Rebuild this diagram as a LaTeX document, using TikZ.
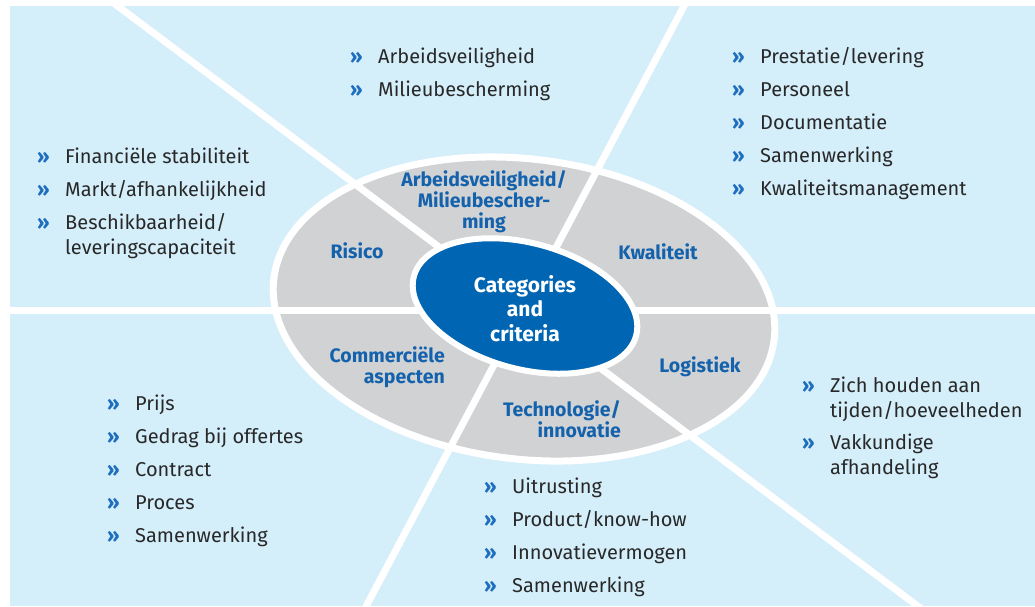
\documentclass[tikz,border=0pt]{standalone}
\usepackage{fontspec}
\setmainfont{Fira Sans}
\usepackage{tikz}
\usetikzlibrary{positioning}

\definecolor{panelblue}{RGB}{212,238,250}
\definecolor{ringgray}{RGB}{209,210,212}
\definecolor{coreblue}{RGB}{0,102,179}
\definecolor{labelblue}{RGB}{20,98,172}
\definecolor{bulletblue}{RGB}{30,110,190}
\definecolor{textdark}{RGB}{40,40,40}

\newcommand{\bul}{\makebox[28pt][l]{\textcolor{bulletblue}{\bfseries »}}}
\newcommand{\ind}{\hspace*{28pt}}

% multi-line nodes sit on the baseline of their last line
\tikzset{
  spoke/.style={white, line width=7pt},
  item/.style={anchor=base west, align=left, inner sep=0pt, text=textdark,
    font=\fontsize{20}{25}\selectfont},
  ringlabel/.style={anchor=base, inner sep=0pt, text=labelblue,
    font=\bfseries\fontsize{19.5}{21}\selectfont},
}

\begin{document}
\begin{tikzpicture}[x=1pt, y=1pt]

 \useasboundingbox (0,0) rectangle (1035,-606);

 % background panel
 \fill[panelblue] (10,-6) rectangle (1035,-606);

 \coordinate (hub) at (523,-310);

 % outer ring
 \draw[white, line width=7pt, fill=ringgray, rotate around={-7:(524,-309)}]
   (524,-309) ellipse (252pt and 150pt);

 % the three dividing lines
 \draw[spoke] (hub) ++(0:600) -- ++(180:1200);
 \draw[spoke] (hub) ++(143.13:600) -- ++(-36.87:1200);
 \draw[spoke] (hub) ++(62.1:400) -- ++(242.1:800);

 % inner ellipse
 \draw[white, line width=6pt, fill=coreblue, rotate around={-15:(525,-306)}]
   (525,-306) ellipse (115pt and 63pt);
 \node[align=center, text=white, inner sep=0pt, anchor=base,
   font=\bfseries\fontsize{21}{24.5}\selectfont] (core) at (525,-341)
   {Categories\\and\\criteria};

 % category labels on the ring
 \node[ringlabel] (risico) at (357,-258) {Risico};
 \node[ringlabel, align=center] (arbo) at (484,-228)
   {Arbeidsveiligheid/\\Milieubescher-\\ming};
 \node[ringlabel] (kwaliteit) at (658,-259) {Kwaliteit};
 \node[ringlabel] (logistiek) at (700,-372) {Logistiek};
 \node[ringlabel, anchor=base east, align=right] (commercieel) at (445,-383)
   {Commerciële\\aspecten};
 \node[ringlabel, anchor=base east, align=right] (techno) at (621,-437)
   {Technologie/\\innovatie};

 % criteria per category
 \foreach \t [count=\i from 0] in {Arbeidsveiligheid, Milieubescherming}
   \node[item] (arbo\i) at (350,{-63-33*\i}) {\bul\t};

 \foreach \t [count=\i from 0] in {Prestatie/levering, Personeel, Documentatie,
     Samenwerking, Kwaliteitsmanagement}
   \node[item] (kwal\i) at (732,{-63-33*\i}) {\bul\t};

 \node[item] (risico0) at (37,-163) {\bul Financiële stabiliteit};
 \node[item] (risico1) at (37,-196) {\bul Markt/afhankelijkheid};
 \node[item] (risico2) at (37,-254) {\bul Beschikbaarheid/\\\ind leveringscapaciteit};

 \foreach \t [count=\i from 0] in {Prijs, Gedrag bij offertes, Contract,
     Proces, Samenwerking}
   \node[item] (comm\i) at (107,{-410-33*\i}) {\bul\t};

 \foreach \t [count=\i from 0] in {Uitrusting, Product/know-how,
     Innovatievermogen, Samenwerking}
   \node[item] (tech\i) at (484,{-493-33*\i}) {\bul\t};

 \node[item] (log0) at (802,-417) {\bul Zich houden aan\\\ind tijden/hoeveelheden};
 \node[item] (log1) at (802,-474) {\bul Vakkundige\\\ind afhandeling};

\end{tikzpicture}
\end{document}
